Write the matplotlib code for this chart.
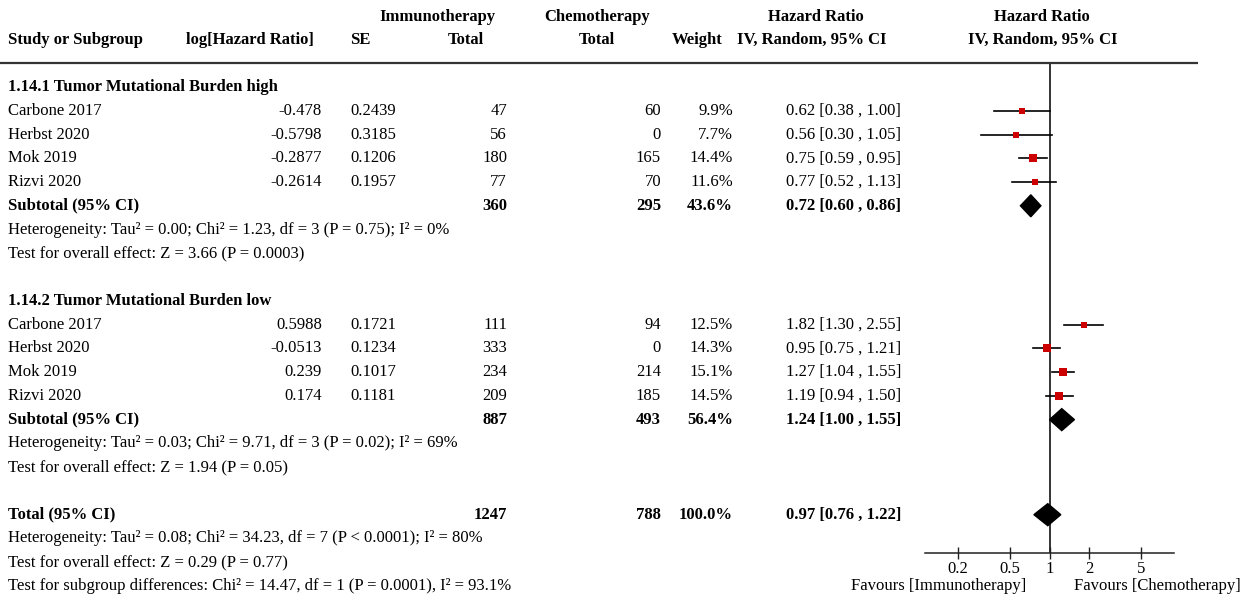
import numpy as np
import matplotlib
matplotlib.use("Agg")
import matplotlib.pyplot as plt
from matplotlib.patches import Polygon

plt.rcParams['font.family'] = ['Liberation Serif', 'DejaVu Serif']

# --- data ---
studies = ["Carbone 2017", "Herbst 2020", "Mok 2019", "Rizvi 2020"]

loghr_high = ["-0.478", "-0.5798", "-0.2877", "-0.2614"]
se_high = ["0.2439", "0.3185", "0.1206", "0.1957"]
immuno_high = [47, 56, 180, 77]
chemo_high = [60, 0, 165, 70]
weight_high = [9.9, 7.7, 14.4, 11.6]
hr_high = [0.62, 0.56, 0.75, 0.77]
lo_high = [0.38, 0.30, 0.59, 0.52]
hi_high = [1.00, 1.05, 0.95, 1.13]

loghr_low = ["0.5988", "-0.0513", "0.239", "0.174"]
se_low = ["0.1721", "0.1234", "0.1017", "0.1181"]
immuno_low = [111, 333, 234, 209]
chemo_low = [94, 0, 214, 185]
weight_low = [12.5, 14.3, 15.1, 14.5]
hr_low = [1.82, 0.95, 1.27, 1.19]
lo_low = [1.30, 0.75, 1.04, 0.94]
hi_low = [2.55, 1.21, 1.55, 1.50]

# subtotal / total: immuno n, chemo n, weight, hr, lo, hi
sub_high = [360, 295, 43.6, 0.72, 0.60, 0.86]
sub_low = [887, 493, 56.4, 1.24, 1.00, 1.55]
total = [1247, 788, 100.0, 0.97, 0.76, 1.22]

het_high = "Heterogeneity: Tau² = 0.00; Chi² = 1.23, df = 3 (P = 0.75); I² = 0%"
eff_high = "Test for overall effect: Z = 3.66 (P = 0.0003)"
het_low = "Heterogeneity: Tau² = 0.03; Chi² = 9.71, df = 3 (P = 0.02); I² = 69%"
eff_low = "Test for overall effect: Z = 1.94 (P = 0.05)"
het_tot = "Heterogeneity: Tau² = 0.08; Chi² = 34.23, df = 7 (P < 0.0001); I² = 80%"
eff_tot = "Test for overall effect: Z = 0.29 (P = 0.77)"
sub_diff = "Test for subgroup differences: Chi² = 14.47, df = 1 (P = 0.0001), I² = 93.1%"

ticks = [0.2, 0.5, 1, 2, 5]

W, H = 1246, 597
fig = plt.figure(figsize=(W / 100, H / 100), dpi=100)
tx = fig.add_axes([0, 0, 1, 1])
tx.set_xlim(0, W)
tx.set_ylim(H, 0)
tx.axis("off")

FS = 11.95

def row_y(i):
    return 87 + 23.76 * i

def t(x, y, s, ha="left", bold=False):
    tx.text(x, y, s, ha=ha, va="center", fontsize=FS,
            fontweight="bold" if bold else "normal")

def ci_str(hr, lo, hi):
    return f"{hr:.2f} [{lo:.2f} , {hi:.2f}]"

# header
t(437, 17, "Immunotherapy", "center", True)
t(597, 17, "Chemotherapy", "center", True)
t(816, 17, "Hazard Ratio", "center", True)
t(1042, 17, "Hazard Ratio", "center", True)
t(8, 40, "Study or Subgroup", bold=True)
t(250, 40, "log[Hazard Ratio]", "center", True)
t(360, 40, "SE", "center", True)
t(484, 40, "Total", "right", True)
t(615, 40, "Total", "right", True)
t(723, 40, "Weight", "right", True)
t(812, 40, "IV, Random, 95% CI", "center", True)
t(1043, 40, "IV, Random, 95% CI", "center", True)
tx.hlines(63, 0, 1198, color="#333333", lw=1.6)

# forest axes (y in the same pixel units as the text)
fx = fig.add_axes([925 / W, (H - 553) / H, 249 / W, (553 - 63) / H])
fx.set_xscale("log")
fx.set_xlim(10 ** -0.95, 10 ** 0.95)
fx.set_ylim(553, 63)
fx.patch.set_alpha(0)
for s in ["top", "left", "right"]:
    fx.spines[s].set_visible(False)
fx.spines["bottom"].set_color("#222222")
fx.spines["bottom"].set_linewidth(1.1)
fx.set_yticks([])
fx.set_xticks(ticks, labels=[f"{v:g}" for v in ticks])
fx.minorticks_off()
fx.tick_params(axis="x", direction="inout", length=9, width=1, labelsize=FS, pad=1,
               color="#222222")
fx.axvline(1, color="#333333", lw=1.4, zorder=1)

def study_block(start, name, loghr, se, ni, nc, wt, hr, lo, hi, sub, het, eff):
    t(8, row_y(start), name, bold=True)
    for k in range(len(studies)):
        y = row_y(start + 1 + k)
        t(8, y, studies[k])
        t(322, y, loghr[k], "right")
        t(350, y, se[k])
        t(507, y, str(ni[k]), "right")
        t(661, y, str(nc[k]), "right")
        t(733, y, f"{wt[k]:.1f}%", "right")
        t(901, y, ci_str(hr[k], lo[k], hi[k]), "right")
        fx.plot([lo[k], hi[k]], [y, y], color="black", lw=1.2, zorder=2)
        side = 1.9 * np.sqrt(wt[k])
        fx.plot(hr[k], y, "s", color="#cc0000", ms=side * 0.72, mew=0, zorder=3)
    y = row_y(start + 5)
    summary_row(y, "Subtotal (95% CI)", sub)
    t(8, row_y(start + 6), het)
    t(8, row_y(start + 7), eff)

def summary_row(y, label, vals):
    ni, nc, wt, hr, lo, hi = vals
    t(8, y, label, bold=True)
    t(507, y, str(ni), "right", True)
    t(661, y, str(nc), "right", True)
    t(733, y, f"{wt:.1f}%", "right", True)
    t(901, y, ci_str(hr, lo, hi), "right", True)
    dh = 11
    fx.add_patch(Polygon([(lo, y), (hr, y - dh), (hi, y), (hr, y + dh)],
                         closed=True, color="black", zorder=3))

study_block(0, "1.14.1 Tumor Mutational Burden high", loghr_high, se_high,
            immuno_high, chemo_high, weight_high, hr_high, lo_high, hi_high,
            sub_high, het_high, eff_high)
study_block(9, "1.14.2 Tumor Mutational Burden low", loghr_low, se_low,
            immuno_low, chemo_low, weight_low, hr_low, lo_low, hi_low,
            sub_low, het_low, eff_low)

summary_row(row_y(18), "Total (95% CI)", total)
t(8, row_y(19), het_tot)
t(8, row_y(20), eff_tot)
t(8, row_y(21), sub_diff)

t(1026, 586, "Favours [Immunotherapy]", "right")
t(1074, 586, "Favours [Chemotherapy]")

fig.savefig("out.png", dpi=100)
